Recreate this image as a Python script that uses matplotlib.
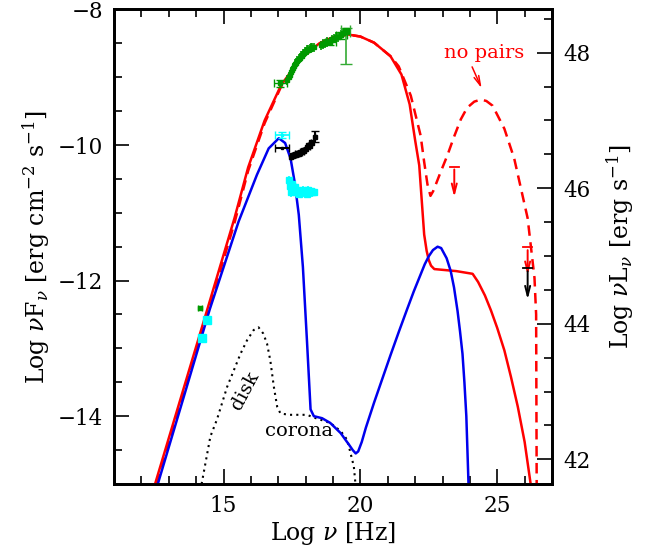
import numpy as np
import matplotlib
matplotlib.use("Agg")
import matplotlib.pyplot as plt
from matplotlib.ticker import MultipleLocator

plt.rcParams['font.family'] = ['DejaVu Serif']
plt.rcParams['mathtext.fontset'] = 'dejavuserif'

# --- model curves ---
red_x = [12.5, 13.5, 14.5, 15.4, 15.9, 16.5, 17.1, 17.8, 18.5, 19.0, 19.55, 20.0, 20.5,
         21.1, 21.5, 21.8, 22.0, 22.15, 22.33, 22.42, 22.5, 22.58, 22.7, 23.5, 24.1, 24.3,
         24.55, 24.77, 25.0, 25.26, 25.5, 25.75, 26.0, 26.22]
red_y = [-15.0, -13.65, -12.3, -11.08, -10.33, -9.64, -9.12, -8.73, -8.5, -8.41, -8.37, -8.4,
         -8.49, -8.69, -8.96, -9.4, -9.93, -10.3, -11.32, -11.56, -11.7, -11.78, -11.83,
         -11.86, -11.9, -12.02, -12.22, -12.44, -12.7, -13.03, -13.42, -13.86, -14.38, -15.0]

nopair_x = [12.56, 13.5, 14.5, 15.4, 15.9, 16.5, 17.1, 17.8, 18.5, 19.0, 19.55, 20.0, 20.5,
            21.1, 21.4, 21.84, 22.2, 22.33, 22.45, 22.56, 22.66, 22.94, 23.18, 23.42, 23.67,
            23.9, 24.16, 24.4, 24.6, 24.83, 25.26, 25.62, 26.11, 26.36, 26.42, 26.44]
nopair_y = [-15.0, -13.72, -12.37, -11.15, -10.38, -9.68, -9.14, -8.74, -8.5, -8.41, -8.37,
            -8.4, -8.49, -8.69, -8.84, -9.27, -9.86, -10.25, -10.58, -10.75, -10.68, -10.39,
            -10.15, -9.88, -9.62, -9.45, -9.36, -9.33, -9.35, -9.42, -9.76, -10.2, -11.08,
            -11.96, -12.5, -15.0]

blue_x = [12.6, 13.5, 14.5, 15.55, 16.22, 16.65, 17.02, 17.25, 17.45, 17.6, 17.75, 17.9,
          18.05, 18.18, 18.3, 18.6, 18.9, 19.28, 19.6, 19.72, 19.83, 19.92, 20.05, 20.2, 20.5,
          20.8, 21.1, 21.4, 21.7, 21.95, 22.2, 22.35, 22.5, 22.65, 22.82, 22.95, 23.15, 23.3,
          23.42, 23.55, 23.64, 23.73, 23.8, 23.87, 23.95]
blue_y = [-15.0, -13.78, -12.42, -11.13, -10.44, -10.05, -9.9, -9.97, -10.2, -10.55, -11.03,
          -11.8, -12.9, -13.9, -14.0, -14.03, -14.1, -14.25, -14.43, -14.5, -14.55, -14.52,
          -14.38, -14.17, -13.8, -13.45, -13.1, -12.76, -12.43, -12.16, -11.91, -11.76,
          -11.64, -11.55, -11.5, -11.52, -11.67, -11.86, -12.1, -12.45, -12.75, -13.08,
          -13.5, -14.0, -15.0]

disk_x = [14.2, 14.52, 14.76, 15.13, 15.62, 15.86, 16.1, 16.28, 16.45, 16.59, 16.71, 16.84,
          16.96, 17.08, 17.4, 18.05, 18.3, 18.9, 19.28, 19.52, 19.76, 19.82]
disk_y = [-15.0, -14.3, -14.05, -13.57, -13.08, -12.88, -12.73, -12.69, -12.78, -12.93, -13.18,
          -13.57, -13.86, -13.96, -13.98, -13.98, -14.02, -14.1, -14.22, -14.35, -14.74, -15.0]

# --- data points ---
grn_x = [17.33, 17.38, 17.42, 17.47, 17.5, 17.55, 17.58, 17.62, 17.66, 17.7, 17.74, 17.78,
         17.82, 17.86, 17.9, 17.94, 17.98, 18.02, 18.06, 18.1, 18.15, 18.2, 18.25, 18.3,
         18.55, 18.62, 18.7, 18.78, 18.9, 18.97, 19.05, 19.12, 19.2, 19.28, 19.35]
grn_y = [-9.04, -8.99, -8.97, -8.92, -8.9, -8.86, -8.84, -8.8, -8.79, -8.76, -8.73, -8.72,
         -8.69, -8.68, -8.66, -8.65, -8.63, -8.62, -8.6, -8.6, -8.58, -8.57, -8.56, -8.56,
         -8.53, -8.51, -8.5, -8.48, -8.47, -8.44, -8.43, -8.4, -8.41, -8.37, -8.35]
grn_xbar = [17.08, 18.9, 19.3]
grn_ybar = [-9.09, -8.48, -8.38]
grn_xbar_err = [0.23, 0.2, 0.2]
grn_big = (19.46, -8.32)
grn_big_err = ([0.48], [0.05])
grn_ir = (14.15, -12.40)

cyan_x = [17.38, 17.42, 17.46, 17.5, 17.55, 17.6, 17.64, 17.7, 17.75, 17.8, 17.85, 17.9,
          17.95, 18.0, 18.05, 18.1, 18.15, 18.2, 18.25, 18.3]
cyan_y = [-10.52, -10.6, -10.7, -10.58, -10.66, -10.62, -10.7, -10.66, -10.72, -10.68, -10.7,
          -10.66, -10.7, -10.68, -10.72, -10.66, -10.7, -10.68, -10.7, -10.69]
cyan_bar = (17.14, -9.85)
cyan_ir_x = [14.39, 14.21]
cyan_ir_y = [-12.58, -12.84]

blk_x = [17.45, 17.5, 17.55, 17.6, 17.65, 17.7, 17.75, 17.8, 17.85, 17.9, 17.95, 18.0,
         18.05, 18.1, 18.15, 18.2, 18.25, 18.36]
blk_y = [-10.17, -10.15, -10.16, -10.13, -10.14, -10.12, -10.13, -10.1, -10.11, -10.08, -10.09,
         -10.06, -10.03, -10.0, -10.02, -9.96, -9.97, -9.88]
blk_bar = (17.14, -10.05)

# upper limits: x, top, arrow tip
ul_red_x = [23.43, 26.11]
ul_red_top = [-10.32, -11.51]
ul_red_tip = [-10.81, -11.96]
ul_blk_x = [26.11]
ul_blk_top = [-11.82]
ul_blk_tip = [-12.32]

offset_L = 56.637  # log nuL_nu - log nuF_nu

fig = plt.figure(figsize=(6.46, 5.55), dpi=100)
ax = fig.add_axes([0.1765, 0.128, 0.678, 0.855])

ax.plot(red_x, red_y, color='red', lw=1.8, zorder=3)
ax.plot(nopair_x, nopair_y, color='red', lw=1.8, dashes=(4.2, 2.6), zorder=3)
ax.plot(blue_x, blue_y, color='#0000ee', lw=1.8, zorder=3)
ax.plot(disk_x, disk_y, color='black', lw=1.5, linestyle=(0, (1, 2.0)), zorder=2)

g = '#009900'
ax.errorbar(grn_x, grn_y, yerr=0.07, fmt='s', ms=3.5, color=g, ecolor=g, elinewidth=1.2,
            capsize=0, zorder=4)
ax.errorbar(grn_xbar, grn_ybar, xerr=grn_xbar_err, yerr=0.05, fmt='s', ms=3, color=g,
            ecolor=g, elinewidth=1.0, capsize=3, zorder=4)
ax.errorbar([grn_big[0]], [grn_big[1]], yerr=grn_big_err, xerr=0.15, fmt='s', ms=4, color=g,
            ecolor='#33aa33', elinewidth=1.2, capsize=4, zorder=4)
ax.errorbar([grn_ir[0]], [grn_ir[1]], xerr=0.07, fmt='s', ms=3, color=g, ecolor=g,
            capsize=2, zorder=4)

c = '#00ffff'
ax.errorbar(cyan_x, cyan_y, yerr=0.06, xerr=0.04, fmt='s', ms=4, color=c, ecolor=c,
            elinewidth=1.2, capsize=0, zorder=4)
ax.errorbar([cyan_bar[0]], [cyan_bar[1]], xerr=0.26, yerr=0.04, fmt='s', ms=2, color=c,
            ecolor=c, elinewidth=1.2, capsize=3, zorder=4)
ax.plot(cyan_ir_x, cyan_ir_y, 's', ms=6, color=c, zorder=4)

ax.errorbar(blk_x, blk_y, yerr=0.05, fmt='s', ms=3.5, color='black', ecolor='black',
            elinewidth=1.0, capsize=0, zorder=4)
ax.errorbar([blk_x[-1]], [blk_y[-1]], yerr=0.08, fmt='none', ecolor='black', capsize=3, zorder=4)
ax.errorbar([blk_bar[0]], [blk_bar[1]], xerr=0.25, fmt='s', ms=2, color='black',
            ecolor='black', capsize=3, zorder=4)

for xs, tops, tips, col in [(ul_red_x, ul_red_top, ul_red_tip, 'red'),
                            (ul_blk_x, ul_blk_top, ul_blk_tip, 'black')]:
    for x0, t0, t1 in zip(xs, tops, tips):
        ax.plot([x0 - 0.17, x0 + 0.17], [t0, t0], color=col, lw=1.3, zorder=5)
        ax.annotate('', xy=(x0, t1), xytext=(x0, t0),
                    arrowprops=dict(arrowstyle='->,head_length=0.7,head_width=0.18',
                                    color=col, lw=1.4), zorder=5)

ax.text(24.53, -8.64, 'no pairs', color='red', fontsize=14, ha='center', va='center')
ax.annotate('', xy=(24.47, -9.2), xytext=(24.04, -8.81),
            arrowprops=dict(arrowstyle='->,head_length=0.7,head_width=0.18', color='red', lw=1.1))
ax.text(15.8, -13.62, 'disk', fontsize=14, rotation=62, ha='center', va='center')
ax.text(17.75, -14.22, 'corona', fontsize=14, ha='center', va='center')

ax.set_xlim(11, 27)
ax.set_ylim(-15, -8)
ax.xaxis.set_major_locator(MultipleLocator(5))
ax.xaxis.set_minor_locator(MultipleLocator(1))
ax.yaxis.set_major_locator(MultipleLocator(2))
ax.yaxis.set_minor_locator(MultipleLocator(0.5))
ax.tick_params(which='both', direction='in', top=True, right=False, labelsize=15.5, width=1.2)
ax.tick_params(which='major', length=11, pad=8)
ax.tick_params(which='minor', length=6)
for s in ax.spines.values():
    s.set_linewidth(2)

ax.set_xlabel(r'Log $\nu$ [Hz]', fontsize=17, labelpad=2)
ax.set_ylabel(r'Log $\nu$F$_\nu$ [erg cm$^{-2}$ s$^{-1}$]', fontsize=17, labelpad=4)

ax2 = ax.twinx()
ax2.set_ylim(-15 + offset_L, -8 + offset_L)
ax2.yaxis.set_major_locator(MultipleLocator(2))
ax2.yaxis.set_minor_locator(MultipleLocator(0.5))
ax2.tick_params(which='both', direction='in', labelsize=15.5, width=1.2)
ax2.tick_params(which='major', length=11, pad=8)
ax2.tick_params(which='minor', length=6)
ax2.set_ylabel(r'Log $\nu$L$_\nu$ [erg s$^{-1}$]', fontsize=17, labelpad=10)
for s in ax2.spines.values():
    s.set_linewidth(2)

fig.savefig('out.png', dpi=100)
